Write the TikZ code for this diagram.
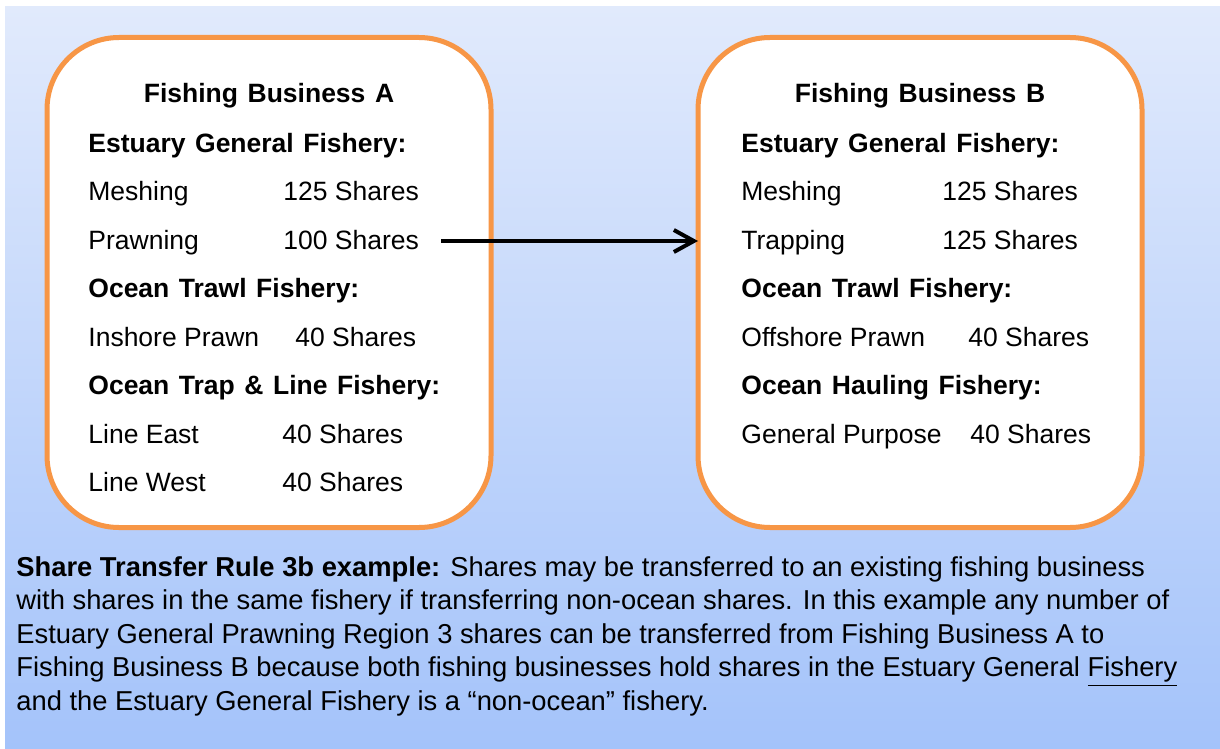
\documentclass[tikz,border=0pt]{standalone}
\usepackage{fontspec}
\setmainfont{Liberation Sans}
\usetikzlibrary{arrows.meta}
\definecolor{bgtop}{RGB}{225,234,252}
\definecolor{bgbot}{RGB}{164,195,250}
\definecolor{boxline}{RGB}{247,150,70}
\newcommand\boxfont{\fontsize{13.25}{16.8}\selectfont}
\newcommand\headfont{\fontsize{13.25}{16.8}\selectfont\bfseries\spaceskip=0.36em\relax}
\newcommand\notefont{\fontsize{13.67}{16.8}\selectfont}

\begin{document}
\begin{tikzpicture}[x=0.5pt, y=-0.5pt,
    biz/.style = {draw=boxline, line width=2.5pt, fill=white, rounded corners=36pt,
      minimum width=222pt, minimum height=245pt, inner sep=0pt, outer sep=0pt},
    head/.style = {anchor=base west, inner sep=0pt, font=\headfont},
    item/.style = {anchor=base west, inner sep=0pt, font=\boxfont}]
  \useasboundingbox (0,0) rectangle (1220,749);
  \shade[top color=bgtop, bottom color=bgbot] (5,7) rectangle (1220,749);

  % the two businesses
  \node[biz] (boxA) at (269,282.5) {};
  \node[biz] (boxB) at (920,282.5) {};

  % business A
  \node[head, anchor=base] (aTitle) at (269,103) {Fishing Business A};
  \node[head] (aEst) at (88,152) {Estuary General Fishery:};
  \node[item] (aMesh) at (88,200) {Meshing};
  \node[item] (aMeshN) at (283,200) {125 Shares};
  \node[item] (aPrawn) at (88,249) {Prawning};
  \node[item] (aPrawnN) at (283,249) {100 Shares};
  \node[head] (aTrawl) at (88,297.5) {Ocean Trawl Fishery:};
  \node[item] (aInsh) at (88,346) {Inshore Prawn};
  \node[item] (aInshN) at (295,346) {40 Shares};
  \node[head] (aTrap) at (88,394.5) {Ocean Trap \& Line Fishery:};
  \node[item] (aEast) at (88,443) {Line East};
  \node[item] (aEastN) at (282,443) {40 Shares};
  \node[item] (aWest) at (88,491.5) {Line West};
  \node[item] (aWestN) at (282,491.5) {40 Shares};

  % business B
  \node[head, anchor=base] (bTitle) at (920,103) {Fishing Business B};
  \node[head] (bEst) at (741,152) {Estuary General Fishery:};
  \node[item] (bMesh) at (741,200) {Meshing};
  \node[item] (bMeshN) at (942,200) {125 Shares};
  \node[item] (bTrap) at (741,249) {Trapping};
  \node[item] (bTrapN) at (942,249) {125 Shares};
  \node[head] (bTrawl) at (741,297.5) {Ocean Trawl Fishery:};
  \node[item] (bOff) at (741,346) {Offshore Prawn};
  \node[item] (bOffN) at (968,346) {40 Shares};
  \node[head] (bHaul) at (741,394.5) {Ocean Hauling Fishery:};
  \node[item] (bGen) at (741,443) {General Purpose};
  \node[item] (bGenN) at (970,443) {40 Shares};

  % transfer
  \coordinate (from) at (441,241);
  \draw[line width=2pt, -{Straight Barb[length=10pt, width=11pt]}] (from) -- (from -| boxB.west);

  % rule text (base = last line)
  \node[item, align=left, font=\notefont] (note) at (16,710.4) {\textbf{Share Transfer Rule 3b example:} Shares may be transferred to an existing fishing business\\
    with shares in the same fishery if transferring non-ocean shares. In this example any number of\\
    Estuary General Prawning Region 3 shares can be transferred from Fishing Business A to\\
    Fishing Business B because both fishing businesses hold shares in the Estuary General \underline{Fishery}\\
    and the Estuary General Fishery is a “non-ocean” fishery.};
\end{tikzpicture}
\end{document}
